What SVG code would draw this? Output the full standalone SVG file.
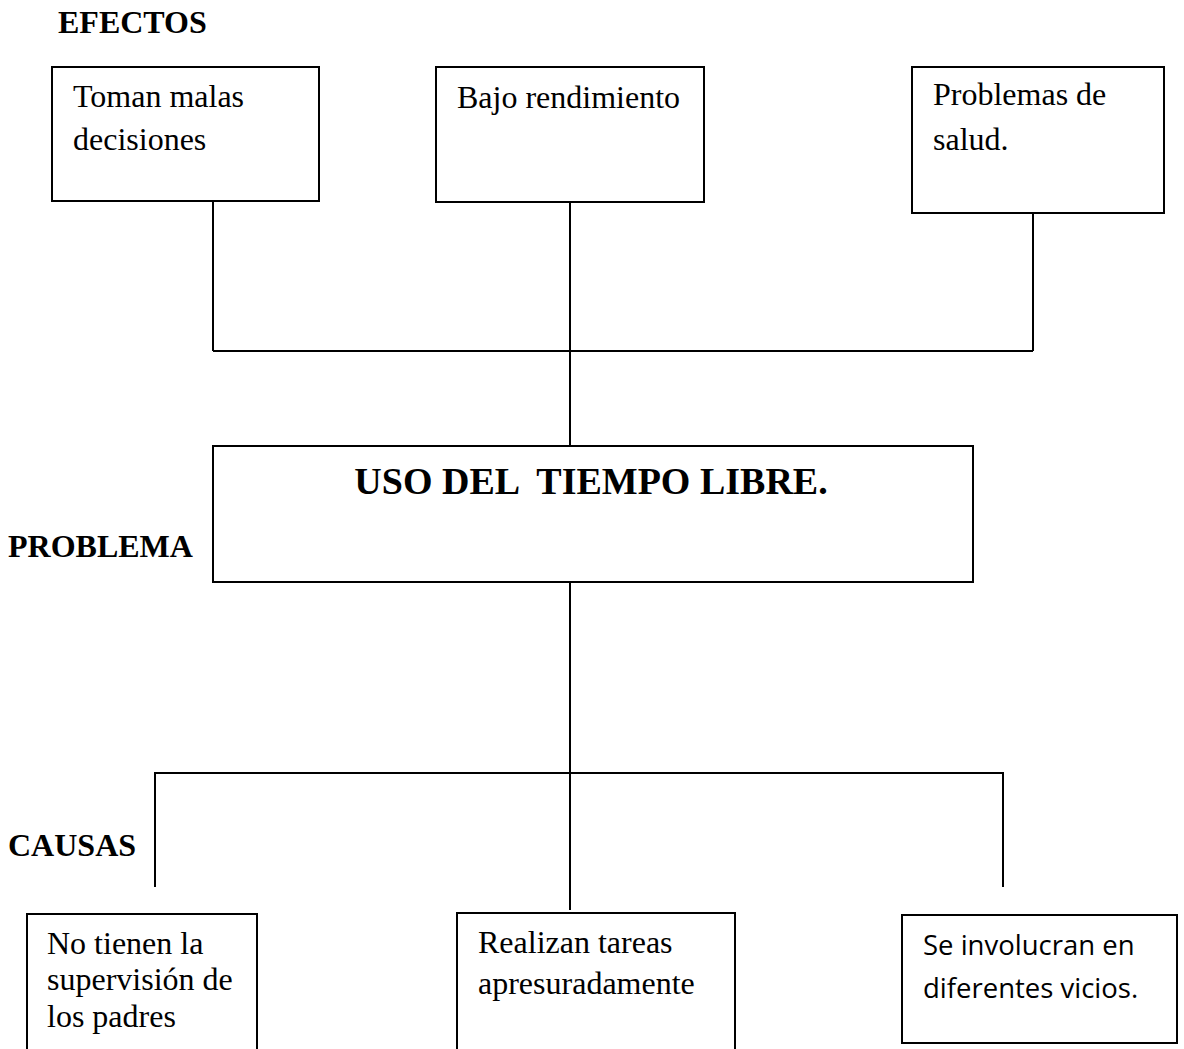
<svg xmlns="http://www.w3.org/2000/svg" width="1184" height="1049" viewBox="0 0 1184 1049">
<style>
.box{fill:#fff;stroke:#000;stroke-width:2}
.ln{fill:none;stroke:#000;stroke-width:2}
.t{font-family:"Liberation Serif","Times New Roman",serif;font-size:32px;fill:#000}
.h{font-family:"Liberation Serif","Times New Roman",serif;font-size:32px;font-weight:bold;fill:#000}
.s{font-family:"Open Sans","Noto Sans",sans-serif;font-size:27.5px;fill:#000}
</style>
<rect width="1184" height="1049" fill="#fff"/>
<g id="labels">
<text class="h" x="58" y="33">EFECTOS</text>
<text class="h" x="8" y="557">PROBLEMA</text>
<text class="h" x="8" y="856">CAUSAS</text>
</g>
<g id="connectors">
<path class="ln" d="M213 201V351M570 202V446M1033 213V351M213 351H1033"/>
<path class="ln" d="M570 582V910M155 887V773H1003V887"/>
</g>
<g id="efecto1">
<rect class="box" x="52" y="67" width="267" height="134"/>
<text class="t" x="73" y="107">Toman malas</text>
<text class="t" x="73" y="150">decisiones</text>
</g>
<g id="efecto2">
<rect class="box" x="436" y="67" width="268" height="135"/>
<text class="t" x="457" y="108">Bajo rendimiento</text>
</g>
<g id="efecto3">
<rect class="box" x="912" y="67" width="252" height="146"/>
<text class="t" x="933" y="105">Problemas de</text>
<text class="t" x="933" y="150">salud.</text>
</g>
<g id="problema">
<rect class="box" x="213" y="446" width="760" height="136"/>
<text class="h" x="591" y="494" text-anchor="middle" style="font-size:38px" xml:space="preserve">USO DEL  TIEMPO LIBRE.</text>
</g>
<g id="causa1">
<path class="box" d="M27 1060V914H257V1060"/>
<text class="t" x="47" y="954">No tienen la</text>
<text class="t" x="47" y="990">supervisión de</text>
<text class="t" x="47" y="1027">los padres</text>
</g>
<g id="causa2">
<path class="box" d="M457 1060V913H735V1060"/>
<text class="t" x="478" y="953">Realizan tareas</text>
<text class="t" x="478" y="994">apresuradamente</text>
</g>
<g id="causa3">
<rect class="box" x="902" y="915" width="275" height="128"/>
<text class="s" x="923" y="955">Se involucran en</text>
<text class="s" x="923" y="998">diferentes vicios.</text>
</g>
</svg>
